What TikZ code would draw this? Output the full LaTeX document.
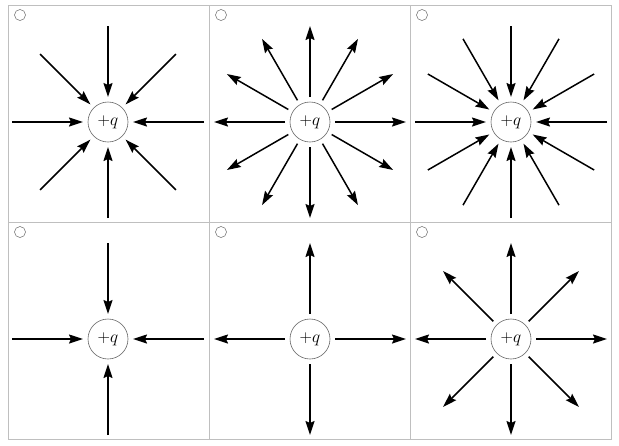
\documentclass[tikz,border=0pt]{standalone}
\usetikzlibrary{arrows.meta}
\tikzset{>=stealth}
\tikzset{
  cell/.style = {draw=black!25, line width=0.8pt},
  charge/.style = {circle, draw=black!60, line width=0.6pt, minimum size=40pt, inner sep=0pt, font=\fontsize{19}{19}\selectfont},
  radio/.style = {circle, draw=black!60, line width=0.5pt, minimum size=11pt, inner sep=0pt},
  arr/.style = {line width=1.5pt, -{Stealth[length=14pt, width=9pt, inset=2pt]}}
}
\newcommand{\inward}[2]{% node, angle step
  \foreach \a in {0,#2,...,359}
    \draw[arr] ([shift={(\a:96)}]#1.center) -- ([shift={(\a:25)}]#1.center);
}
\newcommand{\outward}[2]{%
  \foreach \a in {0,#2,...,359}
    \draw[arr] ([shift={(\a:25)}]#1.center) -- ([shift={(\a:96)}]#1.center);
}
\begin{document}
\begin{tikzpicture}[x=1pt, y=-1pt]
	\useasboundingbox (0,0) rectangle (619,445);
	% cells
	\foreach \x in {8,209,410}
	\foreach \y in {5,222}
	\draw[cell] (\x,\y) rectangle ++(201,217);
	\foreach \x/\y [count=\i] in {20/15,221/15,422/15,20/232,221/232,422/232}
	\node[radio] (r\i) at (\x,\y) {};
	% charges
	\node[charge] (q1) at (108,122) {$+q$};
	\node[charge] (q2) at (310,122) {$+q$};
	\node[charge] (q3) at (511,122) {$+q$};
	\node[charge] (q4) at (108,339) {$+q$};
	\node[charge] (q5) at (310,339) {$+q$};
	\node[charge] (q6) at (511,339) {$+q$};
	% field lines
	\inward{q1}{45}
	\outward{q2}{30}
	\inward{q3}{30}
	\inward{q4}{90}
	\outward{q5}{90}
	\outward{q6}{45}
\end{tikzpicture}
\end{document}
